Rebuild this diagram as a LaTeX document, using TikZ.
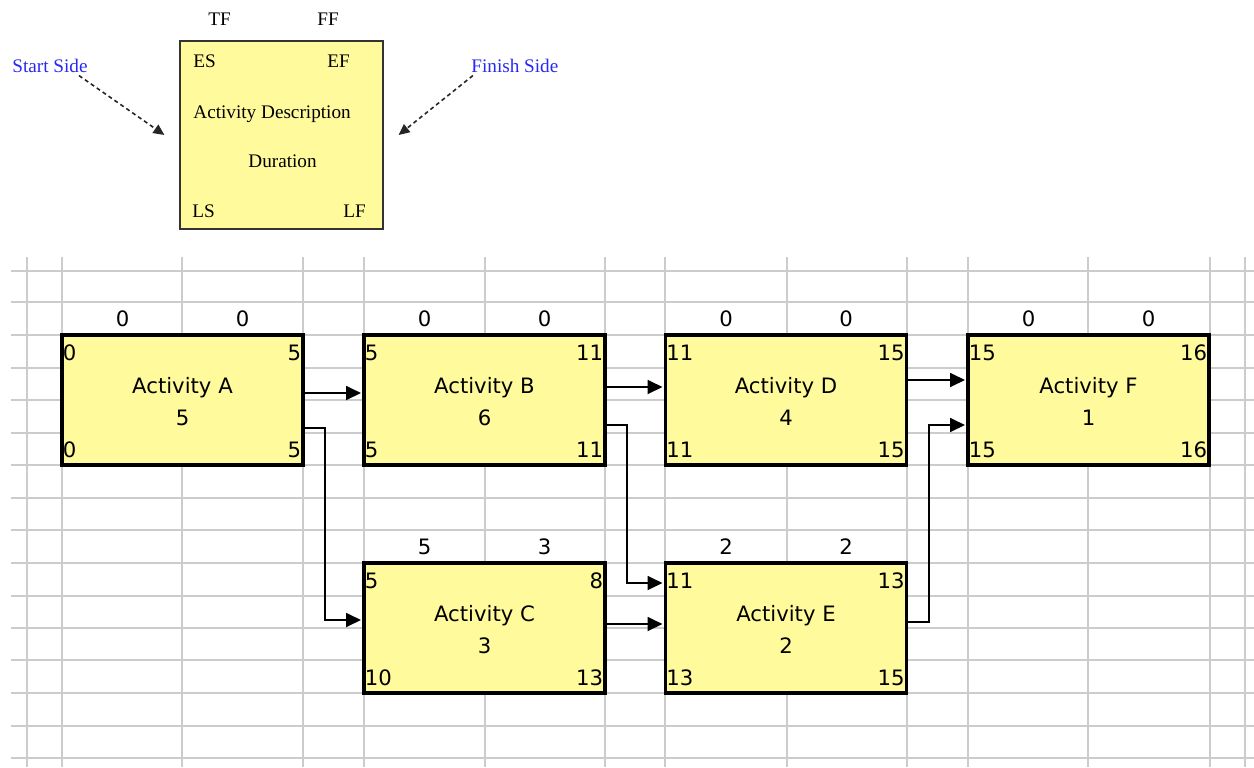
\documentclass[tikz,border=0pt]{standalone}
\usepackage{fontspec}
\setmainfont{Liberation Serif}
\newfontfamily\gridfont{DejaVu Sans}
\usetikzlibrary{arrows.meta,calc}
\definecolor{actyellow}{RGB}{255,250,155}
\definecolor{sideblue}{RGB}{40,40,245}
\tikzset{
  gridline/.style={draw=gray!40, line width=1pt},
  actbox/.style={draw=black, line width=1.6pt, fill=actyellow, minimum width=120.5pt, minimum height=65pt, inner sep=0pt},
  num/.style={inner sep=0pt, font=\gridfont\fontsize{10.6}{12}\selectfont},
  legtxt/.style={inner sep=0pt, font=\fontsize{9.6}{11}\selectfont, anchor=base west},
  arr/.style={-{Triangle[length=7.5pt,width=7pt]}, line width=0.9pt, shorten >=0.7pt},
  darr/.style={-{Triangle[length=5.5pt,width=5pt]}, line width=0.8pt, dash pattern=on 2pt off 1.6pt, draw=black!85}
}
\newcommand{\actlabels}[9]{%
  \node[num, anchor=base west] (#1-es) at ($(#1.north west)+(2,27)$) {#2};
  \node[num, anchor=base east] (#1-ef) at ($(#1.north east)+(-3,27)$) {#3};
  \node[num, anchor=base west] (#1-ls) at ($(#1.south west)+(2,-9)$) {#4};
  \node[num, anchor=base east] (#1-lf) at ($(#1.south east)+(-3,-9)$) {#5};
  \node[num, anchor=base] (#1-tf) at ($(#1.north)+(-60,-7)$) {#6};
  \node[num, anchor=base] (#1-ff) at ($(#1.north)+(60,-7)$) {#7};
  \node[num, anchor=base] (#1-ti) at ($(#1.center)+(0,-7)$) {#8};
  \node[num, anchor=base] (#1-du) at ($(#1.center)+(0,25)$) {#9};
}
\begin{document}
\begin{tikzpicture}[x=0.5pt,y=-0.5pt]
\useasboundingbox (0,0) rectangle (1254,767);
% grid
\foreach \yy in {271,302,335,368,400,433,465,498,530,563,596,628,660,693,726,758}
  \draw[gridline] (11,\yy) -- (1254,\yy);
\foreach \xx in {27,62,182,303,364,485,605,665,787,907,968,1088,1210,1245}
  \draw[gridline] (\xx,257) -- (\xx,767);
% legend
\node[draw=black!80, line width=0.6pt, fill=actyellow, minimum width=101.5pt, minimum height=94pt, inner sep=0pt] (L) at (281.5,135) {};
\node[legtxt] (Ltf) at (208,25) {TF};
\node[legtxt] (Lff) at (317,25) {FF};
\node[legtxt] (Les) at (193,67) {ES};
\node[legtxt] (Lef) at (327,67) {EF};
\node[legtxt] (Lad) at (193,118) {Activity Description};
\node[legtxt] (Ldu) at (248,167) {Duration};
\node[legtxt] (Lls) at (192,217) {LS};
\node[legtxt] (Llf) at (343,217) {LF};
\node[legtxt, text=sideblue] (startlbl) at (12,72) {Start Side};
\node[legtxt, text=sideblue] (finlbl) at (471,72) {Finish Side};
\draw[darr] ($(startlbl.south)+(29,3)$) -- ($(L.west)+(-15,0)$);
\draw[darr] ($(finlbl.south)+(-42,3)$) -- ($(L.east)+(15,0)$);
% activity boxes
\node[actbox] (A) at (182.5,400) {};
\node[actbox] (B) at (484.5,400) {};
\node[actbox] (D) at (786,400) {};
\node[actbox] (F) at (1088.5,400) {};
\node[actbox] (C) at (484.5,628) {};
\node[actbox] (E) at (786,628) {};
\actlabels{A}{0}{5}{0}{5}{0}{0}{Activity A}{5}
\actlabels{B}{5}{11}{5}{11}{0}{0}{Activity B}{6}
\actlabels{D}{11}{15}{11}{15}{0}{0}{Activity D}{4}
\actlabels{F}{15}{16}{15}{16}{0}{0}{Activity F}{1}
\actlabels{C}{5}{8}{10}{13}{5}{3}{Activity C}{3}
\actlabels{E}{11}{13}{13}{15}{2}{2}{Activity E}{2}
% connectors
\draw[arr] ($(A.east)+(0,-7)$) -- ($(B.west)+(0,-7)$);
\draw[arr] ($(A.east)+(0,28)$) -- ++(20,0) |- ($(C.west)+(0,-8)$);
\draw[arr] ($(B.east)+(0,-13)$) -- ($(D.west)+(0,-13)$);
\draw[arr] ($(B.east)+(0,25)$) -- ++(20,0) |- ($(E.west)+(0,-45)$);
\draw[arr] ($(C.east)+(0,-4)$) -- ($(E.west)+(0,-4)$);
\draw[arr] ($(D.east)+(0,-20)$) -- ($(F.west)+(0,-20)$);
\draw[arr] ($(E.east)+(0,-6)$) -- ++(21,0) |- ($(F.west)+(0,25)$);
\end{tikzpicture}
\end{document}
